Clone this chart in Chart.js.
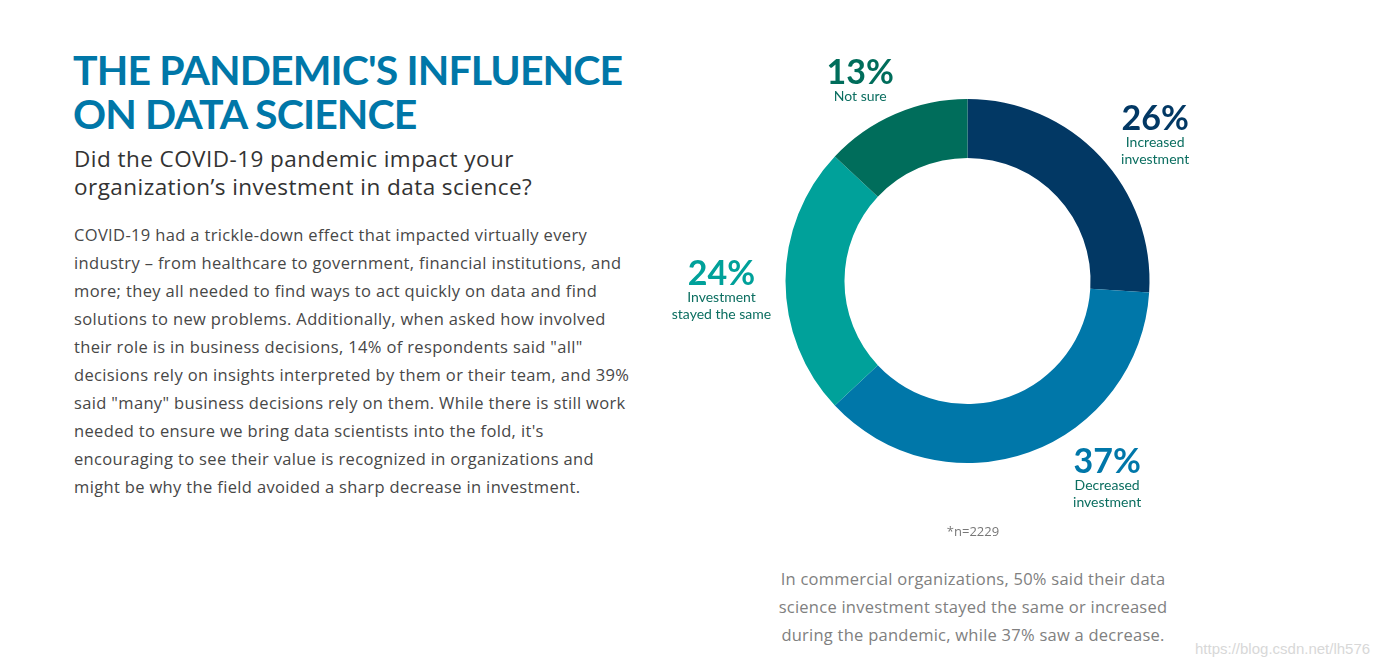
<!DOCTYPE html>
<html>
<head>
<meta charset="utf-8">
<script src="https://cdn.jsdelivr.net/npm/chart.js@4.4.0/dist/chart.umd.min.js"></script>
<style>
body{margin:0;width:1387px;height:668px;background:#fff;position:relative;overflow:hidden;font-family:"Open Sans",sans-serif}
.t{position:absolute;white-space:nowrap}
#title{left:73px;top:48px;font-family:Lato,sans-serif;font-size:41px;font-weight:700;color:#0077a8;line-height:44px;letter-spacing:-0.9px}
#sub{left:74px;top:145px;font-size:22.5px;color:#333;line-height:28px;letter-spacing:0.45px}
#para{left:74px;top:221px;font-size:16.5px;color:#474747;line-height:28px;letter-spacing:0.35px}
#note{left:973px;top:522px;font-size:13px;color:#777;transform:translateX(-50%)}
#foot{left:973px;top:565px;font-size:16.5px;color:#808080;line-height:28px;text-align:center;letter-spacing:0.25px;transform:translateX(-50%)}
#wm{left:1195px;top:640px;font-size:15px;color:#d8d8d8;font-family:"Liberation Sans",Arial,sans-serif}
#c{position:absolute;left:640px;top:0}
</style>
</head>
<body>
<div class="t" id="title">THE PANDEMIC'S INFLUENCE<br>ON DATA SCIENCE</div>
<div class="t" id="sub">Did the COVID-19 pandemic impact your<br>organization’s investment in data science?</div>
<div class="t" id="para">COVID-19 had a trickle-down effect that impacted virtually every<br>industry – from healthcare to government, financial institutions, and<br>more; they all needed to find ways to act quickly on data and find<br>solutions to new problems. Additionally, when asked how involved<br>their role is in business decisions, 14% of respondents said "all"<br>decisions rely on insights interpreted by them or their team, and 39%<br>said "many" business decisions rely on them. While there is still work<br>needed to ensure we bring data scientists into the fold, it's<br>encouraging to see their value is recognized in organizations and<br>might be why the field avoided a sharp decrease in investment.</div>
<canvas id="c" width="655" height="562"></canvas>
<div class="t" id="note">*n=2229</div>
<div class="t" id="foot">In commercial organizations, 50% said their data<br>science investment stayed the same or increased<br>during the pandemic, while 37% saw a decrease.</div>
<div class="t" id="wm">https://blog.csdn.net/lh576</div>
<script>
var categories = ['Increased investment', 'Decreased investment', 'Investment stayed the same', 'Not sure'];
var shares = [26, 37, 24, 13];
var subLines = [['Increased', 'investment'], ['Decreased', 'investment'], ['Investment', 'stayed the same'], ['Not sure']];

var sliceColors = ['#023864', '#0077a9', '#00a19a', '#006d5b'];
var numberColors = ['#023864', '#0077a9', '#00a19a', '#006d5b'];
var subColor = '#0b6e60';
// label nudges from the outer mid point of each arc
var labelNudge = [[55, -26], [78, 21], [-64, 4], [-35, -30]];

var outsideLabels = {
    id: 'outsideLabels',
    afterDatasetsDraw: function(chart) {
        var ctx = chart.ctx;
        var meta = chart.getDatasetMeta(0);
        ctx.save();
        ctx.textAlign = 'center';
        ctx.textBaseline = 'alphabetic';
        meta.data.forEach(function(arc, i) {
            var p = arc.getProps(['x', 'y', 'startAngle', 'endAngle', 'outerRadius'], true);
            var mid = (p.startAngle + p.endAngle) / 2;
            var x = p.x + Math.cos(mid) * p.outerRadius + labelNudge[i][0];
            var y = p.y + Math.sin(mid) * p.outerRadius + labelNudge[i][1];
            ctx.fillStyle = numberColors[i];
            ctx.font = '700 34px Lato';
            ctx.fillText(shares[i] + '%', x, y);
            ctx.fillStyle = subColor;
            ctx.font = '14px Lato';
            subLines[i].forEach(function(line, k) {
                ctx.fillText(line, x, y + 17 * (k + 1));
            });
        });
        ctx.restore();
    }
};

new Chart(document.getElementById('c'), {
    type: 'doughnut',
    data: {
        labels: categories,
        datasets: [{
            data: shares,
            backgroundColor: sliceColors,
            borderWidth: 0
        }]
    },
    options: {
        responsive: false,
        animation: false,
        cutout: '67.6%',
        layout: { padding: { top: 99, bottom: 99, left: 0, right: 0 } },
        plugins: {
            legend: { display: false },
            tooltip: { enabled: false }
        }
    },
    plugins: [outsideLabels]
});
</script>
</body>
</html>
